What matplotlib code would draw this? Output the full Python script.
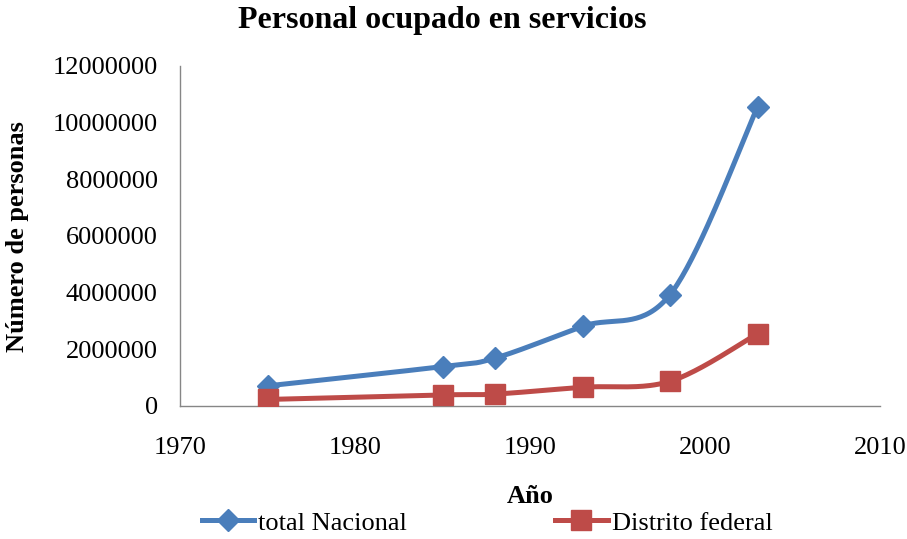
import numpy as np
import matplotlib
matplotlib.use("Agg")
import matplotlib.pyplot as plt
from matplotlib.lines import Line2D

# Values
years = [1975, 1985, 1988, 1993, 1998, 2003]
total_nacional = [710000, 1390000, 1690000, 2810000, 3930000, 10550000]
distrito_federal = [230000, 390000, 420000, 660000, 870000, 2550000]

blue = "#4A7EBB"
red = "#BE4B48"

plt.rcParams["font.family"] = ["Liberation Serif", "DejaVu Serif"]


def excel_smooth(xs, ys, n=40):
    """Excel-like smoothed line: cubic Bezier with Catmull-Rom control points."""
    xs = np.asarray(xs, float)
    ys = np.asarray(ys, float)
    px = np.concatenate([[xs[0]], xs, [xs[-1]]])
    py = np.concatenate([[ys[0]], ys, [ys[-1]]])
    out_x, out_y = [], []
    t = np.linspace(0, 1, n)
    for i in range(1, len(px) - 2):
        p0 = np.array([px[i], py[i]])
        p3 = np.array([px[i + 1], py[i + 1]])
        p1 = p0 + (np.array([px[i + 1], py[i + 1]]) - np.array([px[i - 1], py[i - 1]])) / 6
        p2 = p3 - (np.array([px[i + 2], py[i + 2]]) - np.array([px[i], py[i]])) / 6
        b = ((1 - t) ** 3)[:, None] * p0 + (3 * (1 - t) ** 2 * t)[:, None] * p1 \
            + (3 * (1 - t) * t ** 2)[:, None] * p2 + (t ** 3)[:, None] * p3
        out_x.extend(b[:, 0])
        out_y.extend(b[:, 1])
    return out_x, out_y


fig = plt.figure(figsize=(9.07, 5.39), dpi=100)
ax = fig.add_axes([0.1985, 0.2468, 0.7718, 0.6308])

for ys, col, mk, ms in [(total_nacional, blue, "D", 11), (distrito_federal, red, "s", 14)]:
    sx, sy = excel_smooth(years, ys)
    ax.plot(sx, sy, color=col, lw=3.6, solid_capstyle="round", zorder=2)
    ax.plot(years, ys, ls="none", marker=mk, ms=ms, color=col, zorder=3)

ax.set_xlim(1970, 2010)
ax.set_ylim(0, 12000000)
ax.set_xticks([1970, 1980, 1990, 2000, 2010])
ax.set_yticks(range(0, 12000001, 2000000))
ax.set_yticklabels([str(v) for v in range(0, 12000001, 2000000)])

for s in ["top", "right"]:
    ax.spines[s].set_visible(False)
for s in ["left", "bottom"]:
    ax.spines[s].set_color("#868686")
    ax.spines[s].set_linewidth(1)
ax.tick_params(axis="both", length=0, labelsize=19)
ax.tick_params(axis="y", pad=16)
ax.tick_params(axis="x", pad=22)

fig.text(0.488, 0.962, "Personal ocupado en servicios", ha="center", va="center",
         fontsize=23, fontweight="bold")
fig.text(0.584, 0.078, "Año", ha="center", va="center", fontsize=19, fontweight="bold")
fig.text(0.019, 0.562, "Número de personas", ha="center", va="center", rotation=90,
         fontsize=19, fontweight="bold")

handles = [
    Line2D([], [], color=blue, lw=3.6, marker="D", ms=11),
    Line2D([], [], color=red, lw=3.6, marker="s", ms=14),
]
fig.legend(handles, ["total Nacional", "Distrito federal"], loc="center",
           bbox_to_anchor=(0.537, 0.03), ncol=2, frameon=False, fontsize=19,
           handlelength=2.0, handletextpad=0.15, columnspacing=5.6,
           borderpad=0, borderaxespad=0)

fig.savefig("out.png", dpi=100)
